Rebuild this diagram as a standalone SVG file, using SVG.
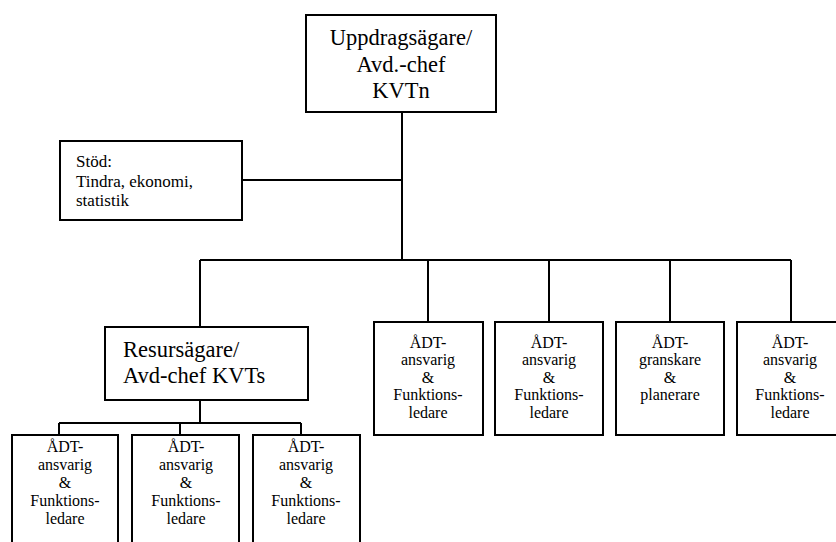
<svg xmlns="http://www.w3.org/2000/svg" width="836" height="542" viewBox="0 0 836 542" font-family="'Liberation Serif', 'Times New Roman', serif">
<style>
.box{fill:#fff;stroke:#000;stroke-width:2}
.ln{fill:none;stroke:#000;stroke-width:2}
text{font-family:'Liberation Serif','Times New Roman',serif;fill:#000}
.big{font-size:22.5px;text-anchor:middle}
.lf{font-size:22.5px}
.sm{font-size:16px;text-anchor:middle}
.st{font-size:17px}
</style>
<rect width="836" height="542" fill="#fff"/>
<g id="connectors">
<path class="ln" d="M402 112V260M243 180H402M200 260H791M200 260V328M428 260V322M549 260V322M670 260V322M791 260V322"/>
<path class="ln" d="M200 400V423M59 423H301M59 423V435M180 423V435M301 423V435"/>
</g>
<g id="n-top">
<rect class="box" x="306" y="15" width="190" height="97"/>
<text class="big" x="401" y="45">Uppdragsägare/</text>
<text class="big" x="401" y="72">Avd.-chef</text>
<text class="big" x="401" y="98">KVTn</text>
</g>
<g id="n-stod">
<rect class="box" x="60" y="141" width="182" height="79"/>
<text class="st" x="76" y="167">Stöd:</text>
<text class="st" x="76" y="187">Tindra, ekonomi,</text>
<text class="st" x="76" y="206">statistik</text>
</g>
<g id="n-resurs">
<rect class="box" x="105" y="327" width="203" height="73"/>
<text class="lf" x="123" y="357">Resursägare/</text>
<text class="lf" x="123" y="383">Avd-chef KVTs</text>
</g>
<g id="n-r1">
<rect class="box" x="374" y="322" width="109" height="113"/>
<text class="sm" x="428" y="348">ÅDT-</text>
<text class="sm" x="428" y="365">ansvarig</text>
<text class="sm" x="428" y="383">&amp;</text>
<text class="sm" x="428" y="400">Funktions-</text>
<text class="sm" x="428" y="418">ledare</text>
</g>
<g id="n-r2">
<rect class="box" x="495" y="322" width="108" height="113"/>
<text class="sm" x="549" y="348">ÅDT-</text>
<text class="sm" x="549" y="365">ansvarig</text>
<text class="sm" x="549" y="383">&amp;</text>
<text class="sm" x="549" y="400">Funktions-</text>
<text class="sm" x="549" y="418">ledare</text>
</g>
<g id="n-r3">
<rect class="box" x="616" y="322" width="108" height="113"/>
<text class="sm" x="670" y="348">ÅDT-</text>
<text class="sm" x="670" y="365">granskare</text>
<text class="sm" x="670" y="383">&amp;</text>
<text class="sm" x="670" y="400">planerare</text>
</g>
<g id="n-r4">
<rect class="box" x="737" y="322" width="108" height="113"/>
<text class="sm" x="790" y="348">ÅDT-</text>
<text class="sm" x="790" y="365">ansvarig</text>
<text class="sm" x="790" y="383">&amp;</text>
<text class="sm" x="790" y="400">Funktions-</text>
<text class="sm" x="790" y="418">ledare</text>
</g>
<g id="n-b1">
<rect class="box" x="12" y="435" width="106" height="120"/>
<text class="sm" x="65" y="452">ÅDT-</text>
<text class="sm" x="65" y="470">ansvarig</text>
<text class="sm" x="65" y="488">&amp;</text>
<text class="sm" x="65" y="506">Funktions-</text>
<text class="sm" x="65" y="524">ledare</text>
</g>
<g id="n-b2">
<rect class="box" x="132" y="435" width="107" height="120"/>
<text class="sm" x="186" y="452">ÅDT-</text>
<text class="sm" x="186" y="470">ansvarig</text>
<text class="sm" x="186" y="488">&amp;</text>
<text class="sm" x="186" y="506">Funktions-</text>
<text class="sm" x="186" y="524">ledare</text>
</g>
<g id="n-b3">
<rect class="box" x="253" y="435" width="107" height="120"/>
<text class="sm" x="306" y="452">ÅDT-</text>
<text class="sm" x="306" y="470">ansvarig</text>
<text class="sm" x="306" y="488">&amp;</text>
<text class="sm" x="306" y="506">Funktions-</text>
<text class="sm" x="306" y="524">ledare</text>
</g>
</svg>
